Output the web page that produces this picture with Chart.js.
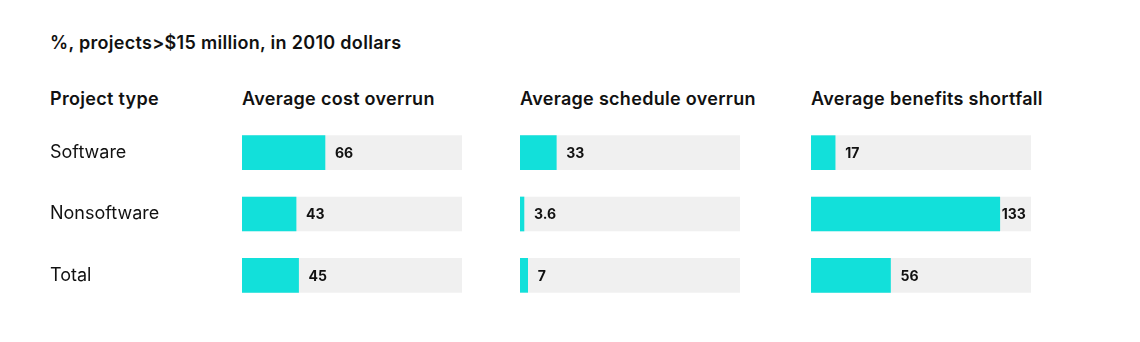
<!DOCTYPE html>
<html>
<head>
<meta charset="utf-8">
<script src="https://cdn.jsdelivr.net/npm/chart.js@4/dist/chart.umd.min.js"></script>
<style>
  body { margin: 0; background: #fff; font-family: 'Inter', sans-serif; color: #111; }
  #wrap { position: relative; width: 1140px; height: 342px; }
  .txt { position: absolute; font-size: 18px; font-weight: 600; white-space: nowrap; letter-spacing: 0.3px; }
  canvas { position: absolute; }
</style>
</head>
<body>
<div id="wrap">
  <div class="txt" style="left:50px;top:32px;">%, projects&gt;$15 million, in 2010 dollars</div>
  <div class="txt" style="left:50px;top:88px;">Project type</div>
  <div class="txt" id="h0" style="left:242px;top:88px;"></div>
  <div class="txt" id="h1" style="left:520px;top:88px;"></div>
  <div class="txt" id="h2" style="left:811px;top:88px;"></div>
  <canvas id="c0" width="412" height="184" style="left:50px;top:122px;"></canvas>
  <canvas id="c1" width="220" height="184" style="left:520px;top:122px;"></canvas>
  <canvas id="c2" width="220" height="184" style="left:811px;top:122px;"></canvas>
</div>
<script>
const FONT = "'Inter', sans-serif";
const CYAN = '#12e0da';
const TRACK = '#f0f0f0';

const projectTypes = ['Software', 'Nonsoftware', 'Total'];
const panelTitles = ['Average cost overrun', 'Average schedule overrun', 'Average benefits shortfall'];
const costOverrun = [66, 43, 45];
const scheduleOverrun = [33, 3.6, 7];
const benefitsShortfall = [17, 133, 56];
const panelMax = [175, 200, 155];

const valueLabels = {
  id: 'valueLabels',
  afterDatasetsDraw(chart) {
    const ctx = chart.ctx;
    const meta = chart.getDatasetMeta(0);
    ctx.save();
    ctx.font = `700 14px ${FONT}`;
    ctx.fillStyle = '#111';
    ctx.textBaseline = 'middle';
    meta.data.forEach((bar, i) => {
      const v = chart.data.datasets[0].data[i];
      const gap = bar.x > chart.chartArea.right - 40 ? 2 : 10;
      ctx.fillText(String(v), bar.x + gap, bar.y + 1);
    });
    ctx.restore();
  }
};

function createPanel(canvasId, values, max, showLabels) {
  const ctx = document.getElementById(canvasId);
  new Chart(ctx, {
    type: 'bar',
    data: {
      labels: projectTypes,
      datasets: [
        { data: values, backgroundColor: CYAN, barThickness: 34, grouped: false, order: 1 },
        { data: values.map(() => max), backgroundColor: TRACK, barThickness: 34, grouped: false, order: 2 },
      ],
    },
    options: {
      indexAxis: 'y',
      responsive: false,
      animation: false,
      layout: { padding: 0 },
      plugins: { legend: { display: false }, tooltip: { enabled: false } },
      scales: {
        x: { display: false, min: 0, max: max },
        y: {
          display: showLabels,
          grid: { display: false },
          border: { display: false },
          ticks: { crossAlign: 'far', color: '#111', font: { family: FONT, size: 18 }, padding: 0 },
          afterFit: (scale) => {
            if (!showLabels) return;
            scale.width = 192;
            scale.paddingTop = 0;
            scale.paddingBottom = 0;
          },
        },
      },
    },
    plugins: [valueLabels],
  });
}

panelTitles.forEach((t, i) => { document.getElementById('h' + i).textContent = t; });
createPanel('c0', costOverrun, panelMax[0], true);
createPanel('c1', scheduleOverrun, panelMax[1], false);
createPanel('c2', benefitsShortfall, panelMax[2], false);
</script>
</body>
</html>
